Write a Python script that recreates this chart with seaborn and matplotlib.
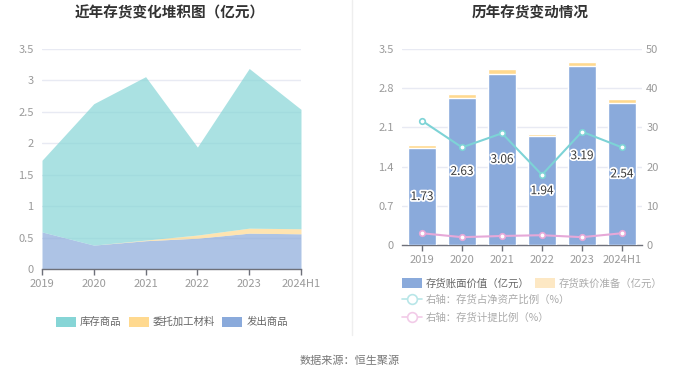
import matplotlib
matplotlib.use("Agg")
import matplotlib.pyplot as plt
import matplotlib.patheffects as pe
from matplotlib.patches import Patch
from matplotlib.lines import Line2D
import seaborn as sns
import pandas as pd
import numpy as np

# ---------------- data ----------------
years = ["2019", "2020", "2021", "2022", "2023", "2024H1"]
# left stacked area (亿元)
shipped = [0.59, 0.38, 0.45, 0.49, 0.57, 0.56]        # 发出商品
outsourced = [0.00, 0.00, 0.01, 0.05, 0.08, 0.08]     # 委托加工材料
stock = [1.14, 2.25, 2.60, 1.40, 2.54, 1.90]          # 库存商品
# right bars (亿元)
book_value = [1.73, 2.63, 3.06, 1.94, 3.19, 2.54]     # 存货账面价值
impairment = [0.05, 0.06, 0.08, 0.05, 0.07, 0.07]     # 存货跌价准备
# right axis lines (%)
ratio_net_assets = [31.7, 24.9, 28.5, 17.9, 28.9, 24.9]
ratio_provision = [3.0, 2.0, 2.3, 2.5, 2.0, 3.0]

left_yticks = [0, 0.5, 1, 1.5, 2, 2.5, 3, 3.5]
left_yticklabels = ["0", "0.5", "1", "1.5", "2", "2.5", "3", "3.5"]
right_yticks = [0, 0.7, 1.4, 2.1, 2.8, 3.5]
right_yticklabels = ["0", "0.7", "1.4", "2.1", "2.8", "3.5"]
right2_yticks = [0, 10, 20, 30, 40, 50]

# ---------------- style ----------------
sns.set_theme(style="white")
plt.rcParams["font.family"] = ["Noto Sans CJK SC", "DejaVu Sans"]
plt.rcParams["axes.unicode_minus"] = False

C_CYAN = "#86d5d6"
C_YEL = "#ffd98f"
C_BLUE = "#8aaadb"
C_LINE1 = "#7dd3d6"
C_LINE2 = "#e6a8d8"
GRID = "#e8eaf3"
TICK = "#9a9a9a"
AXIS = "#6e7079"

W, H = 700, 378
fig = plt.figure(figsize=(7, 3.78), dpi=100)


def fx(px):
    return px / W


def fy(py):
    return 1 - py / H


# ---------------- left chart ----------------
axL = fig.add_axes([fx(42), fy(269), fx(301 - 42), (269 - 49) / H])
xpos = np.arange(len(years))
for v in left_yticks[1:]:
    axL.axhline(v, color=GRID, lw=1, zorder=0)
axL.stackplot(xpos, shipped, outsourced, stock,
              colors=[C_BLUE, C_YEL, C_CYAN], alpha=0.7, lw=0, zorder=2)
axL.set_xlim(0, len(years) - 1)
axL.set_ylim(0, 3.5)
axL.set_yticks(left_yticks)
axL.set_yticklabels(left_yticklabels)
axL.set_xticks(xpos)
axL.set_xticklabels(years)
for s in ["top", "right", "left"]:
    axL.spines[s].set_visible(False)
axL.spines["bottom"].set_color(AXIS)
axL.spines["bottom"].set_linewidth(1)
axL.tick_params(axis="y", length=0, labelcolor=TICK, labelsize=8, pad=6)
axL.tick_params(axis="x", length=4, color=AXIS, width=1, direction="out",
                labelcolor=TICK, labelsize=8, pad=3, bottom=True)
axL.grid(False)

fig.text(fx(170), fy(13), "近年存货变化堆积图（亿元）", ha="center", va="center",
         fontsize=10.5, fontweight="bold", color="#333333")

legL = fig.legend(
    handles=[Patch(facecolor=C_CYAN, edgecolor="none", label="库存商品"),
             Patch(facecolor=C_YEL, edgecolor="none", label="委托加工材料"),
             Patch(facecolor=C_BLUE, edgecolor="none", label="发出商品")],
    loc="center", bbox_to_anchor=(fx(172), fy(322)), ncol=3, frameon=False,
    fontsize=7.5, handlelength=1.9, handleheight=1.1, handletextpad=0.4,
    columnspacing=0.7, labelcolor="#666666", borderpad=0, borderaxespad=0)

# ---------------- right chart ----------------
axR = fig.add_axes([fx(402), fy(245), fx(642 - 402), (245 - 49) / H])
for v in right_yticks[1:]:
    axR.axhline(v, color=GRID, lw=1, zorder=0)
df = pd.DataFrame({"year": years, "book": book_value,
                   "total": np.array(book_value) + np.array(impairment)})
sns.barplot(data=df, x="year", y="total", color=C_YEL, saturation=1,
            width=0.72, ax=axR, zorder=2)
sns.barplot(data=df, x="year", y="book", color=C_BLUE, saturation=1,
            width=0.72, ax=axR, zorder=3)
axR.set_xlim(-0.5, len(years) - 0.5)
axR.set_ylim(0, 3.5)
axR.set_yticks(right_yticks)
axR.set_yticklabels(right_yticklabels)
axR.set_xlabel("")
axR.set_ylabel("")
for s in ["top", "right", "left"]:
    axR.spines[s].set_visible(False)
axR.spines["bottom"].set_color(AXIS)
axR.spines["bottom"].set_linewidth(1)
axR.tick_params(axis="y", length=0, labelcolor=TICK, labelsize=8, pad=6)
axR.tick_params(axis="x", length=4, color=AXIS, width=1, direction="out",
                labelcolor=TICK, labelsize=8, pad=3, bottom=True)
axR.grid(False)

for i, v in enumerate(book_value):
    axR.text(i, v / 2, f"{v:.2f}", ha="center", va="center", fontsize=8.5,
             color="#3a3a3a", zorder=6,
             path_effects=[pe.withStroke(linewidth=2.5, foreground="white")])

axR2 = axR.twinx()
ldf = pd.DataFrame({"x": np.arange(len(years)), "a": ratio_net_assets,
                    "b": ratio_provision})
sns.lineplot(data=ldf, x="x", y="a", color=C_LINE1, lw=1.5, marker="o",
             markersize=4, markerfacecolor="white", markeredgecolor=C_LINE1,
             markeredgewidth=1.2, ax=axR2, zorder=5)
sns.lineplot(data=ldf, x="x", y="b", color=C_LINE2, lw=1.5, marker="o",
             markersize=4, markerfacecolor="white", markeredgecolor=C_LINE2,
             markeredgewidth=1.2, ax=axR2, zorder=5)
axR2.set_ylim(0, 50)
axR2.set_xlim(-0.5, len(years) - 0.5)
axR2.set_yticks(right2_yticks)
axR2.set_xlabel("")
axR2.set_ylabel("")
for s in ["top", "right", "left", "bottom"]:
    axR2.spines[s].set_visible(False)
axR2.tick_params(axis="y", length=0, labelcolor=TICK, labelsize=8, pad=3)
axR2.grid(False)

fig.text(fx(530), fy(13), "历年存货变动情况", ha="center", va="center",
         fontsize=10.5, fontweight="bold", color="#333333")

legR1 = fig.legend(
    handles=[Patch(facecolor=C_BLUE, edgecolor="none", label="存货账面价值（亿元）"),
             Patch(facecolor="#fde8c4", edgecolor="none", label="存货跌价准备（亿元）")],
    loc="center left", bbox_to_anchor=(fx(402), fy(283.5)), ncol=2,
    frameon=False, fontsize=7.5, handlelength=1.9, handleheight=1.1,
    handletextpad=0.4, columnspacing=0.5, borderpad=0, borderaxespad=0)
txts = legR1.get_texts()
txts[0].set_color("#666666")
txts[1].set_color("#aaaaaa")

legR2 = fig.legend(
    handles=[Line2D([0], [0], color="#b8e6e8", lw=1.2, marker="o", markersize=7,
                    markerfacecolor="white", markeredgecolor="#b8e6e8",
                    markeredgewidth=1.2, label="右轴：存货占净资产比例（%）"),
             Line2D([0], [0], color="#f2cbe8", lw=1.2, marker="o", markersize=7,
                    markerfacecolor="white", markeredgecolor="#f2cbe8",
                    markeredgewidth=1.2, label="右轴：存货计提比例（%）")],
    loc="upper left", bbox_to_anchor=(fx(402), fy(294)), ncol=1,
    frameon=False, fontsize=7.5, handlelength=1.9, handletextpad=0.4,
    labelspacing=0.75, borderpad=0, borderaxespad=0, labelcolor="#aaaaaa")

# separator & source
fig.add_artist(Line2D([fx(351.5), fx(351.5)], [fy(0), fy(335)],
                      color="#eeeeee", lw=1))
fig.text(fx(350), fy(361), "数据来源：恒生聚源", ha="center", va="center",
         fontsize=8, color="#777777")

fig.savefig("out.png", dpi=100)
